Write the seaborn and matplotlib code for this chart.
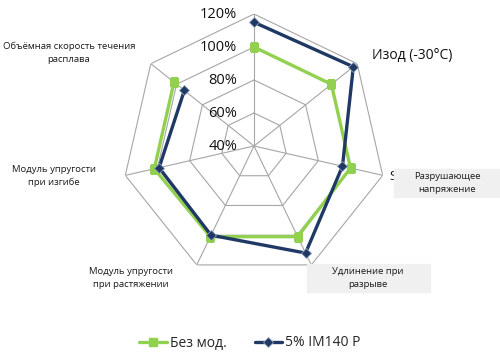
import numpy as np
import pandas as pd
import seaborn as sns
import matplotlib.pyplot as plt
from matplotlib.lines import Line2D

sns.set_theme(style="white")
plt.rcParams['font.family'] = ['Open Sans', 'DejaVu Sans']

axis_labels = ["", "Изод (-30°C)", "Разрушающее\nнапряжение", "Удлинение при\nразрыве",
               "Модуль упругости\nпри растяжении", "Модуль упругости\nпри изгибе",
               "Объёмная скорость течения\nрасплава"]
base_vals = [100, 100, 100, 101, 101, 102, 102]
mod_vals = [115, 117, 95, 112, 100, 99, 94]
r_ticks = [40, 60, 80, 100, 120]
r_tick_labels = ["40%", "60%", "80%", "100%", "120%"]
series_names = ["Без мод.", "5% IM140 P"]

green = "#92D050"
navy = "#1F3864"
grid_c = "#A6A6A6"

n = len(axis_labels)
angles = np.linspace(0, 2 * np.pi, n, endpoint=False)
closed = np.append(angles, angles[0])

fig = plt.figure(figsize=(5, 3.6), dpi=100)
W, H = 500, 360
cx, cy, R = 254, 146, 132
ax = fig.add_axes([(cx - R) / W, (H - cy - R) / H, 2 * R / W, 2 * R / H], projection="polar")
ax.set_theta_zero_location("N")
ax.set_theta_direction(-1)
ax.set_ylim(r_ticks[0], r_ticks[-1])
ax.grid(False)
ax.spines["polar"].set_visible(False)
ax.patch.set_alpha(0)

# heptagon grid
for v in r_ticks[1:]:
    ax.plot(closed, [v] * len(closed), color=grid_c, lw=0.8, zorder=1)
for a in angles:
    ax.plot([a, a], [r_ticks[0], r_ticks[-1]], color=grid_c, lw=0.8, zorder=1)

for v, lab in zip(r_ticks, r_tick_labels):
    ax.annotate(lab, xy=(0, v), xytext=(-17, 0), textcoords="offset pixels",
                ha="right", va="center", fontsize=10.5, color="#111111", zorder=5)

df = pd.DataFrame({
    "theta": np.concatenate([closed, closed]),
    "value": np.concatenate([base_vals + base_vals[:1], mod_vals + mod_vals[:1]]),
    "series": [series_names[0]] * len(closed) + [series_names[1]] * len(closed),
})

sns.lineplot(data=df[df.series == series_names[0]], x="theta", y="value", sort=False,
             color=green, lw=2.4, marker="s", markersize=6, markeredgecolor=green,
             ax=ax, zorder=3, legend=False)
sns.lineplot(data=df[df.series == series_names[1]], x="theta", y="value", sort=False,
             color=navy, lw=2.4, marker="D", markersize=5.5, markeredgecolor="#8EA0BC",
             markeredgewidth=0.6, ax=ax, zorder=4, legend=False)
ax.set_xlabel("")
ax.set_ylabel("")
ax.set_xticks([])
ax.set_yticks([])


def ft(x, y, s, **kw):
    fig.text(x / W, 1 - y / H, s, **kw)


txt = dict(ha="center", va="center", fontsize=6.8, color="#1a1a1a", linespacing=1.6)
ft(69, 53, axis_labels[6], **txt)
ft(54, 176, axis_labels[5], **txt)
ft(131, 278, axis_labels[4], **txt)
ft(389, 176, "S", ha="left", va="center", fontsize=9.5, color="#111111", zorder=1)
fig.patches.append(plt.Rectangle((394 / W, 1 - 197 / H), 106 / W, 28 / H,
                                 transform=fig.transFigure, color="#F0F0F0", zorder=2))
ft(447, 183, axis_labels[2], zorder=3, **txt)
fig.patches.append(plt.Rectangle((307 / W, 1 - 292 / H), 123 / W, 28 / H,
                                 transform=fig.transFigure, color="#F0F0F0", zorder=2))
ft(368, 278, axis_labels[3], zorder=3, **txt)
ft(372, 55, axis_labels[1], ha="left", va="center", fontsize=10, color="#111111")

handles = [
    Line2D([], [], color=green, lw=2.4, marker="s", markersize=6),
    Line2D([], [], color=navy, lw=2.4, marker="D", markersize=5.5, markeredgecolor="#8EA0BC",
           markeredgewidth=0.6),
]
fig.legend(handles, series_names, loc="center", bbox_to_anchor=(250 / W, 1 - 343 / H), ncol=2,
           frameon=False, fontsize=10, handlelength=2.0, handletextpad=0.2, columnspacing=2.0)

fig.savefig("out.png", dpi=100)
